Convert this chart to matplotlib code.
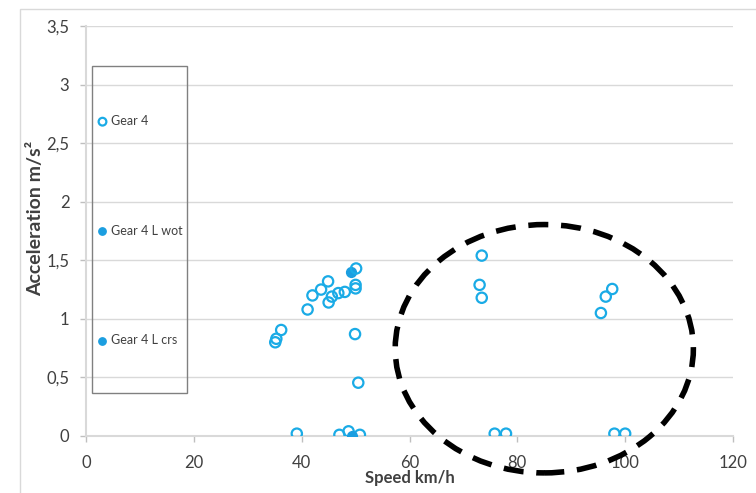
import matplotlib
matplotlib.use("Agg")
import matplotlib.pyplot as plt
from matplotlib.patches import Ellipse, Rectangle

plt.rcParams["font.family"] = ["Lato", "DejaVu Sans"]

# Gear 4 (open circles)
gear4_speed = [35.1, 35.3, 36.2, 41.1, 42.0, 43.6, 44.9, 45.0, 45.6, 46.8, 48.0,
               50.1, 50.0, 50.0, 49.9, 50.5, 39.1, 47.0, 48.7, 50.8,
               73.4, 73.0, 73.4, 97.6, 96.4, 95.5, 75.8, 77.9, 98.0, 100.0]
gear4_accel = [0.80, 0.83, 0.905, 1.08, 1.20, 1.25, 1.32, 1.14, 1.19, 1.22, 1.23,
               1.43, 1.29, 1.26, 0.87, 0.455, 0.02, 0.01, 0.04, 0.01,
               1.54, 1.29, 1.18, 1.255, 1.19, 1.05, 0.02, 0.02, 0.02, 0.02]

# Gear 4 L wot / Gear 4 L crs (filled)
wot_speed = [49.2]
wot_accel = [1.40]
crs_speed = [49.3]
crs_accel = [0.0]

series_labels = ["Gear 4", "Gear 4 L wot", "Gear 4 L crs"]

xticks = [0, 20, 40, 60, 80, 100, 120]
yticks = [0, 0.5, 1, 1.5, 2, 2.5, 3, 3.5]
ytick_labels = ["0", "0,5", "1", "1,5", "2", "2,5", "3", "3,5"]

# highlighted region (dashed ellipse), data units
ell_center = (85.0, 0.745)
ell_width = 55.3
ell_height = 2.12

blue = "#1AABE6"
blue2 = "#1B9EE0"
grid = "#d9d9d9"
text_col = "#404040"

fig = plt.figure(figsize=(7.56, 4.93), dpi=100)
ax = fig.add_axes([86 / 756, 1 - 436 / 493, 647 / 756, 410 / 493])

# chart-area frame (only top and left edges visible in the original)
fig.patches.append(Rectangle((20 / 756, -0.5), 2.0, 1.5 - 9 / 493,
                             transform=fig.transFigure, fill=False,
                             edgecolor=grid, lw=1.0))

ax.scatter(wot_speed, wot_accel, s=50, color=blue2, zorder=3, label=series_labels[1])
ax.scatter(gear4_speed, gear4_accel, s=55, facecolors="none", edgecolors=blue,
           linewidths=1.6, zorder=4, label=series_labels[0])
ax.scatter(crs_speed, crs_accel, s=50, color=blue2, zorder=5, label=series_labels[2])

ax.add_patch(Ellipse(ell_center, ell_width, ell_height, fill=False,
                     edgecolor="black", lw=4, linestyle=(0, (3.6, 2.3)),
                     clip_on=False, zorder=6))

ax.set_xlim(0, 120)
ax.set_ylim(0, 3.5)
ax.set_xticks(xticks)
ax.set_yticks(yticks)
ax.set_yticklabels(ytick_labels)
ax.grid(axis="y", color=grid, lw=1.0)
ax.set_axisbelow(True)

for side in ("top", "right"):
    ax.spines[side].set_visible(False)
for side in ("left", "bottom"):
    ax.spines[side].set_color(grid)
    ax.spines[side].set_linewidth(1.5)

ax.tick_params(axis="both", colors="#bfbfbf", labelcolor=text_col,
               labelsize=12, length=4, width=1)
ax.tick_params(axis="y", pad=8)
ax.tick_params(axis="x", pad=10)

ax.set_xlabel("Speed km/h", fontsize=12, fontweight="bold", color=text_col)
ax.xaxis.set_label_coords(0.5, -0.083)
ax.set_ylabel("Acceleration m/s²", fontsize=14, fontweight="bold", color=text_col)
ax.yaxis.set_label_coords(-0.065, 0.53)

# legend: tall box with widely spaced entries
handles, labels = ax.get_legend_handles_labels()
order = [labels.index(l) for l in series_labels]
leg = ax.legend([handles[i] for i in order], [labels[i] for i in order],
                loc="upper left", bbox_to_anchor=(0.0197, 0.783), fontsize=9,
                labelspacing=7.81, borderpad=0, handlelength=0.6,
                handletextpad=0.35, borderaxespad=0, markerscale=0.75,
                frameon=False)
for t in leg.get_texts():
    t.set_color(text_col)
ax.add_patch(Rectangle((6 / 647, (436 - 393) / 410), 95 / 647, 327 / 410,
                       transform=ax.transAxes, fill=False, edgecolor="#808080",
                       lw=1.0, zorder=7))

fig.savefig("out.png", dpi=100)
